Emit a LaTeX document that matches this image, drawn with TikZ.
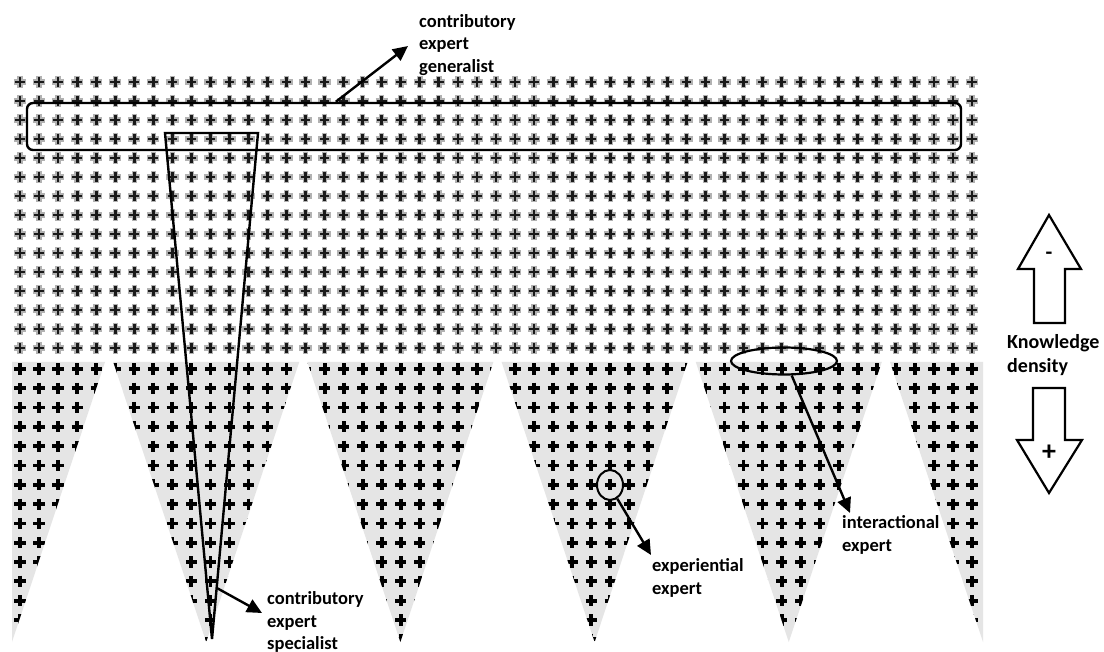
\documentclass[tikz,border=0pt]{standalone}
\usepackage{fontspec}
\setmainfont{Carlito}
\usetikzlibrary{arrows.meta,shapes.geometric,calc}
\begin{document}
\begin{tikzpicture}[x=1pt,y=-1pt,
  lbl/.style={font=\bfseries\fontsize{18.5}{22.5}\selectfont,align=left,inner sep=0pt,anchor=west},
  outline/.style={draw=black,line width=2.4pt},
  pointer/.style={line width=2.4pt,-{Triangle[length=15pt,width=14pt]}},
  blockarrow/.style={draw=black,line width=2.2pt,fill=white,line join=miter},
  tris/.style={insert path={
    (12,362)--(105,362)--(12,642)--cycle
    (113.2,362)--(299.2,362)--(206.2,642)--cycle
    (307.4,362)--(493.4,362)--(400.4,642)--cycle
    (501.6,362)--(687.6,362)--(594.6,642)--cycle
    (695.8,362)--(881.8,362)--(788.8,642)--cycle
    (890,362)--(983,362)--(983,642)--cycle}},
  tplus/.pic={\draw[black!30,line width=5.4pt] (-6.2,0)--(6.2,0) (0,-6.2)--(0,6.2);
              \draw[black!90,line width=2.8pt] (-4.8,0)--(4.8,0) (0,-4.8)--(0,4.8);},
  bplus/.pic={\draw[black,line width=3.8pt] (-5.6,0)--(5.6,0) (0,-5.6)--(0,5.6);}
]
\useasboundingbox (0,0) rectangle (1104,652);
\fill[white] (0,0) rectangle (1104,652);

% upper grid (sparse knowledge)
\foreach \i in {0,...,50}{
  \foreach \j in {0,...,14}{
    \pic at ({20+19.04*\i},{82+19*\j}) {tplus};
  }
}

% lower band of dense-knowledge triangles
\fill[black!10][tris];
\begin{scope}
  \clip[tris];
  \foreach \i in {0,...,50}{
    \foreach \j in {0,...,14}{
      \pic at ({20+19.04*\i},{369+19.3*\j}) {bplus};
    }
  }
\end{scope}

% contributory expert generalist
\node[outline,rounded corners=6pt,minimum width=934pt,minimum height=47pt,inner sep=0pt]
  (genbox) at (494,126.5) {};
\node[lbl] (gentext) at (419,45) {contributory\\expert\\generalist};
\coordinate (gen0) at ([xshift=310pt]genbox.north west);
\coordinate (gentip) at (408,46);
\draw[pointer] (gen0) -- (gentip);

% contributory expert specialist
\coordinate (s1) at (165,133);
\coordinate (s2) at (258,133);
\coordinate (stip) at (212,639);
\draw[outline,line join=miter] (s1) -- (s2) -- (stip) -- cycle;
\coordinate (spec0) at ($(s2)!0.899!(stip)$);
\coordinate (spectip) at (262,613);
\node[lbl] (spectext) at (267,622) {contributory\\expert\\specialist};
\draw[pointer] (spec0) -- (spectip);

% experiential expert
\node[draw,line width=2pt,ellipse,minimum width=26pt,minimum height=30pt,inner sep=0pt]
  (exp) at (610,485) {};
\coordinate (exptip) at (651,555);
\node[lbl] (exptext) at (652,578) {experiential\\expert};
\draw[pointer] (exp.-62) -- (exptip);

% interactional expert
\node[draw,line width=2.2pt,ellipse,minimum width=106pt,minimum height=27pt,inner sep=0pt]
  (inter) at (784,361) {};
\coordinate (intertip) at (850,513);
\node[lbl] (intertext) at (842,535) {interactional\\expert};
\draw[pointer] (inter.-62) -- (intertip);

% knowledge density legend
\draw[blockarrow] (1034,323)--(1034,269)--(1018,269)--(1049,215)--(1081,269)--(1065,269)--(1065,323)--cycle;
\node[font=\bfseries\fontsize{22}{22}\selectfont,inner sep=0pt] (minus) at (1049,256) {-};
\node[lbl,font=\bfseries\fontsize{20}{24}\selectfont] (kd) at (1007,355) {Knowledge\\density};
\draw[blockarrow] (1033,388)--(1065,388)--(1065,440)--(1082,440)--(1049,493)--(1017,440)--(1033,440)--cycle;
\node[font=\bfseries\fontsize{28}{28}\selectfont,inner sep=0pt] (plus) at (1049,453) {+};
\end{tikzpicture}
\end{document}
